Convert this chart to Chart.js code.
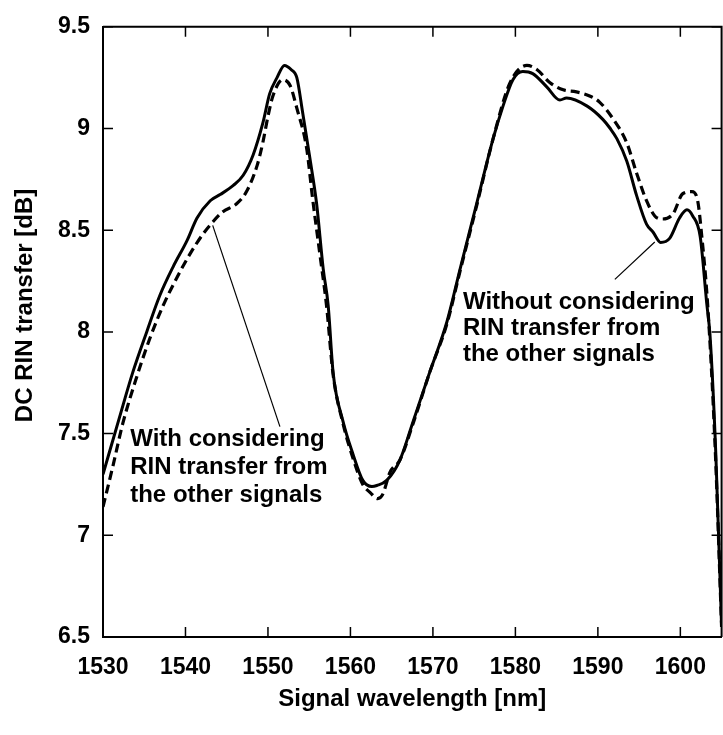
<!DOCTYPE html>
<html>
<head>
<meta charset="utf-8">
<script src="https://cdn.jsdelivr.net/npm/chart.js@4"></script>
<style>
  body { margin: 0; background: #fff; }
</style>
</head>
<body>
<canvas id="chart" width="723" height="735"></canvas>
<script>
// solid curve: without considering RIN transfer from the other signals
const solidWl = [1530, 1532, 1533.6, 1535.3, 1536.9, 1538.5, 1540.2, 1541.4, 1543, 1544.2, 1545.8, 1547, 1548.2, 1549.4, 1550.2, 1551.1, 1552, 1552.8, 1553.5, 1554.2, 1555.1, 1555.9, 1556.7, 1557.3, 1557.9, 1559.1, 1560.3, 1561.5, 1562.6, 1563.2, 1564.4, 1566, 1567.6, 1569.6, 1571.7, 1573.3, 1575.3, 1577.3, 1578.5, 1579.7, 1580.9, 1582.1, 1583.8, 1585.4, 1586.2, 1588.7, 1590.6, 1591.5, 1592.3, 1593.5, 1594.7, 1595.9, 1596.7, 1597.6, 1598.7, 1599.9, 1600.8, 1601.5, 1602.4, 1603.2, 1603.6, 1604.3, 1605];
const solidVal = [7.30, 7.58, 7.80, 8.00, 8.18, 8.32, 8.45, 8.56, 8.645, 8.675, 8.72, 8.77, 8.87, 9.03, 9.17, 9.25, 9.31, 9.29, 9.25, 9.08, 8.85, 8.63, 8.31, 8.13, 7.80, 7.56, 7.40, 7.27, 7.24, 7.245, 7.27, 7.37, 7.56, 7.80, 8.05, 8.31, 8.63, 8.95, 9.11, 9.24, 9.28, 9.27, 9.205, 9.14, 9.15, 9.11, 9.045, 9.00, 8.95, 8.84, 8.67, 8.53, 8.49, 8.44, 8.46, 8.56, 8.60, 8.57, 8.47, 8.14, 7.98, 7.40, 6.55];

// dashed curve: with considering RIN transfer from the other signals
const dashWl = [1530, 1531.2, 1532.4, 1534.1, 1535.7, 1537.3, 1539, 1540.5, 1542.1, 1543.3, 1544.5, 1546.2, 1547.4, 1548.7, 1549.4, 1550, 1550.6, 1551.8, 1552.7, 1553.5, 1554.7, 1555.4, 1556.3, 1557.1, 1557.9, 1559.1, 1560.3, 1561.5, 1562.4, 1563.3, 1563.9, 1564.8, 1566, 1567.6, 1569.6, 1571.7, 1573.3, 1575.3, 1577.3, 1579.3, 1581.4, 1582.6, 1584.2, 1585.8, 1587.4, 1589, 1590.2, 1591.8, 1593.5, 1594.7, 1595.9, 1596.9, 1597.8, 1599.1, 1600.3, 1601.4, 1602.1, 1602.6, 1603.3, 1604.2, 1605];
const dashVal = [7.14, 7.34, 7.55, 7.78, 7.97, 8.13, 8.27, 8.38, 8.48, 8.54, 8.59, 8.63, 8.69, 8.82, 8.935, 9.06, 9.16, 9.24, 9.21, 9.10, 8.90, 8.66, 8.38, 8.13, 7.79, 7.55, 7.38, 7.25, 7.21, 7.18, 7.20, 7.31, 7.37, 7.55, 7.80, 8.04, 8.30, 8.62, 8.95, 9.22, 9.31, 9.29, 9.225, 9.19, 9.18, 9.16, 9.13, 9.05, 8.93, 8.78, 8.645, 8.57, 8.555, 8.58, 8.68, 8.69, 8.645, 8.47, 8.14, 7.45, 6.55];

const xTicks = [1530, 1540, 1550, 1560, 1570, 1580, 1590, 1600];
const yTicks = [6.5, 7, 7.5, 8, 8.5, 9, 9.5];

const FONT = '"Liberation Sans", Arial, sans-serif';

// label texts, leader line from point on curve towards the text
const notes = [
  { lines: ['With considering', 'RIN transfer from', 'the other signals'], x: 1533.3, y: 7.437, step: 28,
    from: [1543.3, 8.524], to: [1551.45, 7.534] },
  { lines: ['Without considering', 'RIN transfer from', 'the other signals'], x: 1573.64, y: 8.114, step: 26,
    from: [1596.9, 8.442], to: [1592.06, 8.258] }
];

function pts(xs, ys) {
  return xs.map((v, i) => ({ x: v, y: ys[i] }));
}

const extras = {
  id: 'extras',
  afterDraw(chart) {
    const { ctx, chartArea: a, scales: { x, y } } = chart;
    ctx.save();
    ctx.strokeStyle = '#000';
    ctx.fillStyle = '#000';

    // top and right frame
    ctx.lineWidth = 2;
    ctx.beginPath();
    ctx.moveTo(a.left, a.top);
    ctx.lineTo(a.right, a.top);
    ctx.lineTo(a.right, a.bottom);
    ctx.stroke();

    // inward ticks on all four sides
    ctx.lineWidth = 1.5;
    ctx.beginPath();
    xTicks.forEach(v => {
      const px = x.getPixelForValue(v);
      ctx.moveTo(px, a.bottom); ctx.lineTo(px, a.bottom - 10);
      ctx.moveTo(px, a.top); ctx.lineTo(px, a.top + 10);
    });
    yTicks.forEach(v => {
      const py = y.getPixelForValue(v);
      ctx.moveTo(a.left, py); ctx.lineTo(a.left + 10, py);
      ctx.moveTo(a.right, py); ctx.lineTo(a.right - 10, py);
    });
    ctx.stroke();

    // annotations
    ctx.font = 'bold 24px ' + FONT;
    ctx.textAlign = 'left';
    ctx.textBaseline = 'alphabetic';
    notes.forEach(n => {
      const tx = x.getPixelForValue(n.x);
      const ty = y.getPixelForValue(n.y);
      n.lines.forEach((t, i) => ctx.fillText(t, tx, ty + i * n.step));
      ctx.lineWidth = 1.2;
      ctx.beginPath();
      ctx.moveTo(x.getPixelForValue(n.from[0]), y.getPixelForValue(n.from[1]));
      ctx.lineTo(x.getPixelForValue(n.to[0]), y.getPixelForValue(n.to[1]));
      ctx.stroke();
    });

    // y axis title
    ctx.translate(25, y.getPixelForValue(8.13));
    ctx.rotate(-Math.PI / 2);
    ctx.textAlign = 'center';
    ctx.textBaseline = 'middle';
    ctx.fillText('DC RIN transfer [dB]', 0, 0);
    ctx.restore();
  }
};

new Chart(document.getElementById('chart'), {
  type: 'line',
  data: {
    datasets: [{
      label: 'Without considering RIN transfer from the other signals',
      data: pts(solidWl, solidVal),
      borderColor: '#000',
      borderWidth: 3,
      pointRadius: 0,
      cubicInterpolationMode: 'monotone'
    }, {
      label: 'With considering RIN transfer from the other signals',
      data: pts(dashWl, dashVal),
      borderColor: '#000',
      borderWidth: 3.2,
      borderDash: [9, 5],
      pointRadius: 0,
      cubicInterpolationMode: 'monotone'
    }]
  },
  options: {
    responsive: false,
    animation: false,
    layout: { padding: { top: 16, right: 1, left: 0, bottom: 0 } },
    plugins: { legend: { display: false }, tooltip: { enabled: false } },
    scales: {
      x: {
        type: 'linear',
        min: 1530,
        max: 1605,
        afterFit: s => { s.height = 98; },
        afterBuildTicks: s => { s.ticks = xTicks.map(v => ({ value: v })); },
        grid: { display: true, drawOnChartArea: false, drawTicks: false },
        border: { display: true, color: '#000', width: 2 },
        ticks: {
          color: '#000', padding: 17, maxRotation: 0,
          font: { family: FONT, size: 23, weight: 'bold' },
          callback: v => String(v)
        },
        title: {
          display: true,
          text: 'Signal wavelength [nm]',
          color: '#000',
          padding: { top: 0, bottom: 21 },
          font: { family: FONT, size: 24, weight: 'bold' }
        }
      },
      y: {
        type: 'linear',
        min: 6.5,
        max: 9.5,
        afterFit: s => { s.width = 103; },
        afterBuildTicks: s => { s.ticks = yTicks.map(v => ({ value: v })); },
        grid: { display: true, drawOnChartArea: false, drawTicks: false },
        border: { display: true, color: '#000', width: 2 },
        ticks: {
          color: '#000', padding: 13,
          font: { family: FONT, size: 23, weight: 'bold' },
          callback: v => String(v)
        }
      }
    }
  },
  plugins: [extras]
});
</script>
</body>
</html>
